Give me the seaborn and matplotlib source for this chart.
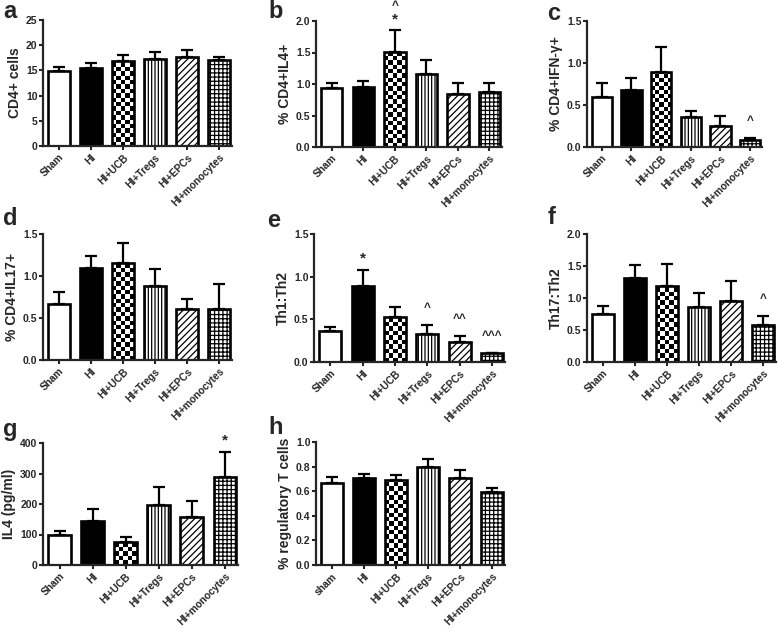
import numpy as np
import matplotlib
matplotlib.use("Agg")
from matplotlib import pyplot as plt
import seaborn as sns

# groups on the x axis
groups = ['Sham', 'HI', 'HI+UCB', 'HI+Tregs', 'HI+EPCs', 'HI+monocytes']
groups_h = ['sham', 'HI', 'HI+UCB', 'HI+Tregs', 'HI+EPCs', 'HI+monocytes']

# means and SEM
cd4_mean = [14.9, 15.4, 16.9, 17.2, 17.6, 17.1]
cd4_err = [0.8, 1.1, 1.2, 1.5, 1.4, 0.6]
il4_mean = [0.93, 0.95, 1.51, 1.16, 0.84, 0.87]
il4_err = [0.09, 0.09, 0.34, 0.22, 0.17, 0.15]
ifn_mean = [0.59, 0.68, 0.89, 0.36, 0.25, 0.08]
ifn_err = [0.17, 0.14, 0.30, 0.07, 0.12, 0.03]
il17_mean = [0.67, 1.10, 1.16, 0.88, 0.61, 0.61]
il17_err = [0.14, 0.14, 0.23, 0.20, 0.12, 0.29]
th1_mean = [0.36, 0.89, 0.53, 0.33, 0.23, 0.10]
th1_err = [0.05, 0.19, 0.11, 0.10, 0.075, 0.01]
th17_mean = [0.75, 1.32, 1.19, 0.86, 0.95, 0.58]
th17_err = [0.12, 0.20, 0.34, 0.22, 0.32, 0.14]
il4pg_mean = [99, 143, 75, 197, 157, 287]
il4pg_err = [13, 39, 18, 58, 52, 85]
treg_mean = [0.67, 0.71, 0.69, 0.80, 0.71, 0.59]
treg_err = [0.045, 0.03, 0.04, 0.06, 0.06, 0.04]

# significance marks
no_marks = ['', '', '', '', '', '']
b_stars = ['', '', '*', '', '', '']
b_carets = ['', '', '^', '', '', '']
c_carets = ['', '', '', '', '', '^']
e_stars = ['', '*', '', '', '', '']
e_carets = ['', '', '', '^', '^^', '^^^']
f_carets = ['', '', '', '', '', '^']
g_stars = ['', '', '', '', '', '*']

sns.set_style("ticks")
plt.rcParams['font.family'] = ['Liberation Sans', 'DejaVu Sans']
plt.rcParams['font.weight'] = 'bold'
plt.rcParams['hatch.linewidth'] = 0.9

W, H = 778, 632
fig = plt.figure(figsize=(W / 100, H / 100), dpi=100)

hatches = [None, None, None, '|||||', '/////', '++++']
faces = ['white', 'black', 'none', 'white', 'white', 'white']


def panel(box, labels, means, errs, ymax, step, ylabel, stars, carets):
    l, r, t, b = box
    ax = fig.add_axes([l / W, 1 - b / H, (r - l) / W, (b - t) / H])
    sns.barplot(x=labels, y=means, ax=ax, color='white', edgecolor='black',
                linewidth=1.9, width=0.68, saturation=1)
    ax.errorbar(range(len(means)), means, yerr=[np.zeros(len(errs)), errs],
                fmt='none', ecolor='black', elinewidth=1.6, capsize=4,
                capthick=1.6, zorder=0.5)
    ax.set_xlim(-0.5, 5.4)
    ax.set_ylim(0, ymax)
    for p, h, fc in zip(ax.patches, hatches, faces):
        p.set_facecolor(fc)
        if h:
            p.set_hatch(h)
    # checkerboard for the UCB bar
    p = ax.patches[2]
    x0, w, hgt = p.get_x(), p.get_width(), p.get_height()
    (px0, py0), (px1, py1) = ax.transData.transform([(x0, 0), (x0 + w, hgt)])
    ncol = 5
    cell = (px1 - px0) / ncol
    nrow = max(1, int(np.ceil((py1 - py0) / cell)))
    board = np.indices((nrow, ncol)).sum(axis=0) % 2
    ytop = nrow * cell * hgt / (py1 - py0)
    im = ax.imshow(board, cmap='gray', extent=(x0, x0 + w, 0, ytop),
                   origin='lower', interpolation='nearest', aspect='auto', zorder=0.9)
    im.set_clip_path(p)
    ax.set_xlim(-0.5, 5.4)
    ax.set_ylim(0, ymax)
    ax.set_yticks(np.arange(0, ymax + step / 2, step))
    if step < 1:
        ax.yaxis.set_major_formatter(matplotlib.ticker.FormatStrFormatter('%.1f'))
    ax.set_xticks(range(len(labels)))
    ax.set_xticklabels(labels, rotation=45, ha='right', rotation_mode='anchor',
                       fontsize=7.3, fontweight='bold')
    ax.tick_params(axis='y', labelsize=7.5, length=3, width=1.5, pad=1)
    ax.tick_params(axis='x', length=3, width=1.5, pad=1.5)
    for lab in ax.get_yticklabels():
        lab.set_fontweight('bold')
    ax.set_ylabel(ylabel, fontsize=10, fontweight='bold', labelpad=3)
    ax.set_xlabel('')
    sns.despine(ax=ax)
    for s in ['left', 'bottom']:
        ax.spines[s].set_linewidth(1.6)
    for i, (m, e) in enumerate(zip(means, errs)):
        top = m + e
        if stars[i]:
            ax.annotate(stars[i], (i, top), xytext=(0, 3), textcoords='offset points',
                        ha='center', va='bottom', fontsize=11, annotation_clip=False)
        if carets[i]:
            off = 13 if stars[i] else 8
            ax.annotate(carets[i], (i, top), xytext=(0, off), textcoords='offset points',
                        ha='center', va='bottom', fontsize=8.5, annotation_clip=False)
    return ax


panel((43, 232, 20, 146), groups, cd4_mean, cd4_err, 25, 5, 'CD4+ cells', no_marks, no_marks)
panel((316, 502, 21, 147), groups, il4_mean, il4_err, 2.0, 0.5, '% CD4+IL4+', b_stars, b_carets)
panel((587, 762, 21, 147), groups, ifn_mean, ifn_err, 1.5, 0.5, '% CD4+IFN-γ+', no_marks, c_carets)
panel((43, 232, 234, 360), groups, il17_mean, il17_err, 1.5, 0.5, '% CD4+IL17+', no_marks, no_marks)
panel((314, 505, 234, 362), groups, th1_mean, th1_err, 1.5, 0.5, 'Th1:Th2', e_stars, e_carets)
panel((587, 776, 234, 362), groups, th17_mean, th17_err, 2.0, 0.5, 'Th17:Th2', no_marks, f_carets)
panel((43, 238, 443, 565), groups, il4pg_mean, il4pg_err, 400, 100, 'IL4 (pg/ml)', g_stars, no_marks)
panel((316, 505, 442, 565), groups_h, treg_mean, treg_err, 1.0, 0.2, '% regulatory T cells', no_marks, no_marks)

letters = [('a', 3, 0), ('b', 268, 0), ('c', 547, 2), ('d', 3, 207), ('e', 267, 209),
           ('f', 548, 206), ('g', 3, 418), ('h', 268, 416)]
for txt, x, y in letters:
    fig.text(x / W, 1 - y / H, txt, fontsize=17, fontweight='bold', va='top', ha='left')

fig.savefig('out.png', dpi=100)
